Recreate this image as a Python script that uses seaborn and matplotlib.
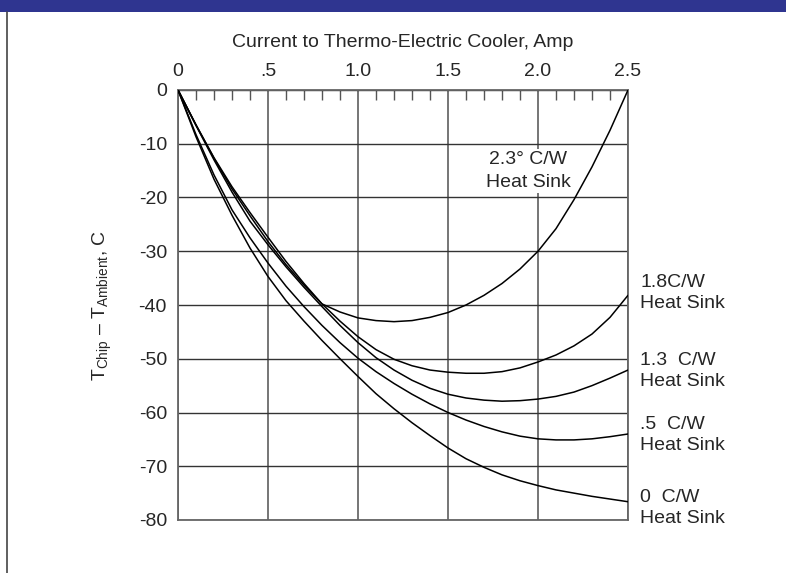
import pandas as pd
import matplotlib
matplotlib.use("Agg")
import matplotlib.pyplot as plt
from matplotlib.patches import Rectangle
from matplotlib.lines import Line2D
from matplotlib.ticker import MultipleLocator
import seaborn as sns

# current through the cooler, Amp
current = [0.0, 0.1, 0.2, 0.3, 0.4, 0.5, 0.6, 0.7, 0.8, 0.9, 1.0, 1.1, 1.2,
           1.3, 1.4, 1.5, 1.6, 1.7, 1.8, 1.9, 2.0, 2.1, 2.2, 2.3, 2.4, 2.5]

# T chip - T ambient, C, one list per heat sink
hs_23 = [0, -6.5, -12.6, -18.0, -22.8, -27.4, -31.9, -36.0, -39.8, -41.3, -42.4, -42.9, -43.1,
         -42.9, -42.3, -41.4, -40.0, -38.2, -36.0, -33.3, -30.0, -25.8, -20.4, -14.3, -7.5, 0.0]
hs_18 = [0, -6.5, -12.7, -18.4, -23.4, -28.2, -32.5, -36.3, -39.8, -43.0, -45.9, -48.3, -50.1,
         -51.3, -52.1, -52.5, -52.7, -52.7, -52.4, -51.7, -50.6, -49.3, -47.6, -45.4, -42.3, -38.2]
hs_13 = [0, -6.6, -13.0, -19.0, -24.4, -28.8, -32.9, -36.7, -40.3, -43.8, -47.0, -49.8, -52.1,
         -54.0, -55.5, -56.6, -57.3, -57.7, -57.9, -57.8, -57.5, -57.0, -56.2, -55.0, -53.6, -52.1]
hs_05 = [0, -8.3, -15.8, -22.3, -27.5, -32.2, -36.5, -40.3, -43.8, -47.0, -49.9, -52.4, -54.6,
         -56.6, -58.4, -60.0, -61.4, -62.6, -63.6, -64.4, -64.9, -65.1, -65.1, -64.9, -64.5, -64.0]
hs_00 = [0, -8.7, -16.6, -23.3, -29.4, -34.7, -39.2, -43.0, -46.6, -50.0, -53.3, -56.5, -59.3,
         -61.9, -64.3, -66.6, -68.6, -70.2, -71.6, -72.7, -73.6, -74.4, -75.0, -75.6, -76.1, -76.6]

sinks = ["2.3", "1.8", "1.3", ".5", "0"]
series = [hs_23, hs_18, hs_13, hs_05, hs_00]

x_ticks = [0, 0.5, 1.0, 1.5, 2.0, 2.5]
x_labels = ["0", ".5", "1.0", "1.5", "2.0", "2.5"]
y_ticks = [0, -10, -20, -30, -40, -50, -60, -70, -80]

rows = []
for name, vals in zip(sinks, series):
    for i, t in zip(current, vals):
        rows.append({"I": i, "T": t, "sink": name})
df = pd.DataFrame(rows)

sns.set_style("white")
plt.rcParams['font.family'] = ['Liberation Sans', 'DejaVu Sans']
plt.rcParams['mathtext.fontset'] = 'custom'
plt.rcParams['mathtext.rm'] = 'Liberation Sans'
plt.rcParams['axes.unicode_minus'] = False

fig = plt.figure(figsize=(7.86, 5.73), dpi=100)
ax = fig.add_axes([178 / 786, 53 / 573, 450 / 786, 430 / 573])

sns.lineplot(data=df, x="I", y="T", hue="sink", palette=["black"] * 5,
             legend=False, linewidth=1.1, ax=ax, zorder=3)

ax.set_xlim(0, 2.5)
ax.set_ylim(-80, 0)
ax.xaxis.tick_top()
ax.xaxis.set_label_position("top")
ax.set_xticks(x_ticks)
ax.set_xticklabels(x_labels)
ax.xaxis.set_minor_locator(MultipleLocator(0.1))
ax.set_yticks(y_ticks)
ax.set_yticklabels([str(v) for v in y_ticks])
ax.tick_params(axis="x", which="major", length=0, pad=7, labelsize=14)
ax.tick_params(axis="x", which="minor", direction="in", length=7, width=1, color="#555555",
               top=True, bottom=False)
ax.tick_params(axis="y", length=0, pad=8, labelsize=14)

ax.grid(True, axis="x", which="major", color="#6a6a6a", linewidth=1.3)
ax.grid(True, axis="y", which="major", color="#333333", linewidth=1.0)
for s in ax.spines.values():
    s.set_color("#666666")
    s.set_linewidth(1.3)

ax.set_xlabel("Current to Thermo-Electric Cooler, Amp", fontsize=14, labelpad=12)
ax.set_ylabel(r"T$_{\mathrm{Chip}}$ – T$_{\mathrm{Ambient}}$, C", fontsize=14, labelpad=18)

ax.text(1.947, -15.1, "2.3° C/W\nHeat Sink", fontsize=14, ha="center", va="center",
        linespacing=1.45, bbox=dict(facecolor="white", edgecolor="none", pad=1.5), zorder=4)
right_labels = [("1.8C/W\nHeat Sink", -37.8), ("1.3  C/W\nHeat Sink", -52.3),
                (".5  C/W\nHeat Sink", -64.2), ("0  C/W\nHeat Sink", -77.7)]
for txt, yv in right_labels:
    ax.text(2.569, yv, txt, fontsize=14, ha="left", va="center", linespacing=1.3, clip_on=False)

# header bar and left border
fig.patches.append(Rectangle((0, 1 - 12 / 573), 1, 12 / 573, transform=fig.transFigure,
                             facecolor="#2f3590", edgecolor="none"))
fig.lines.append(Line2D([7 / 786, 7 / 786], [0, 1 - 12 / 573], transform=fig.transFigure,
                        color="#444444", linewidth=1.2))

fig.savefig("out.png", dpi=100)
